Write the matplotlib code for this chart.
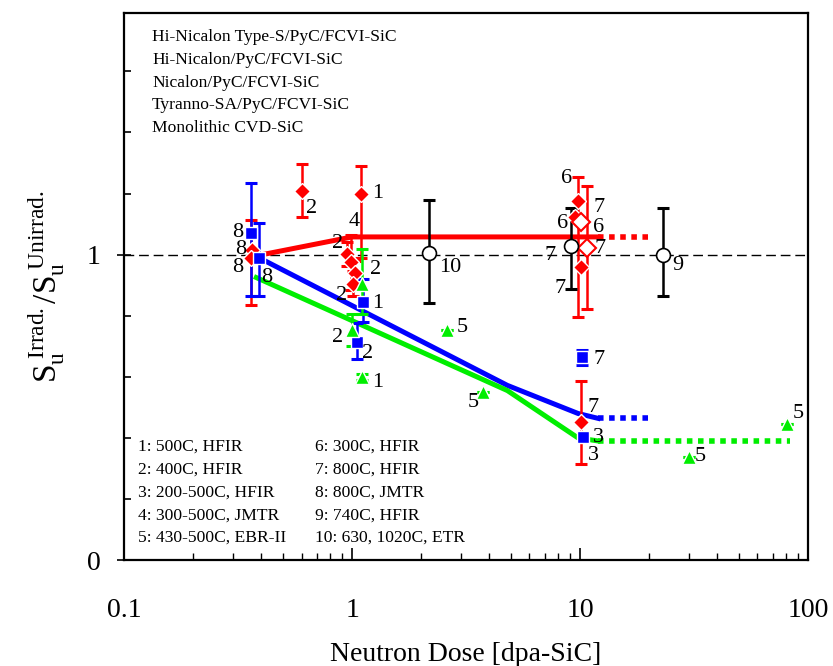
import numpy as np
import matplotlib
matplotlib.use("Agg")
import matplotlib.pyplot as plt

plt.rcParams['font.family'] = ['Liberation Serif', 'DejaVu Serif']
plt.rcParams['mathtext.fontset'] = 'custom'
plt.rcParams['mathtext.rm'] = 'Liberation Serif'
plt.rcParams['mathtext.it'] = 'Liberation Serif:italic'

# --- data ---
# Hi-Nicalon Type-S/PyC/FCVI-SiC (red filled diamonds)
hns_x = [0.365, 0.362, 0.602, 1.092, 0.948, 0.99, 1.03, 1.01, 9.77, 9.5, 10.1, 10.1]
hns_y = [1.015, 0.988, 1.209, 1.200, 1.002, 0.975, 0.94, 0.905, 1.176, 1.122, 0.958, 0.452]
hns_lo = [0.0, 0.152, 0.087, 0.21, 0.04, 0.09, 0.04, 0.04, 0.38, 0.0, 0.0, 0.136]
hns_hi = [0.0, 0.125, 0.087, 0.09, 0.04, 0.09, 0.04, 0.04, 0.077, 0.0, 0.0, 0.133]

# Tyranno-SA/PyC/FCVI-SiC (red open diamonds)
tsa_x = [10.1, 10.74]
tsa_y = [1.106, 1.022]
tsa_lo = [0.0, 0.2]
tsa_hi = [0.0, 0.203]

# Hi-Nicalon/PyC/FCVI-SiC (blue squares)
hn_x = [0.36, 0.392, 1.12, 1.05, 10.25, 10.3]
hn_y = [1.071, 0.989, 0.844, 0.713, 0.664, 0.403]
hn_lo = [0.208, 0.126, 0.065, 0.054, 0.025, 0.01]
hn_hi = [0.163, 0.115, 0.077, 0.063, 0.025, 0.01]

# Nicalon/PyC/FCVI-SiC (green triangles)
nic_x = [1.1, 1.0, 1.11, 2.62, 3.76, 30.2, 81.2]
nic_y = [0.905, 0.752, 0.599, 0.752, 0.55, 0.338, 0.447]
nic_lo = [0.10, 0.05, 0.01, 0.0, 0.0, 0.0, 0.0]
nic_hi = [0.113, 0.054, 0.01, 0.0, 0.0, 0.0, 0.0]

# Monolithic CVD-SiC (black open circles)
cvd_x = [2.18, 9.1, 23.06]
cvd_y = [1.004, 1.029, 0.999]
cvd_lo = [0.163, 0.141, 0.133]
cvd_hi = [0.176, 0.123, 0.154]

# trend lines
red_fit_x = [0.385, 1.0, 12.0]
red_fit_y = [0.997, 1.058, 1.058]
red_ext_x = [12.0, 20.0]
red_ext_y = [1.058, 1.058]
blue_fit_x = [0.39, 4.8, 9.8, 12.0]
blue_fit_y = [0.99, 0.572, 0.48, 0.464]
blue_ext_x = [12.0, 20.0]
blue_ext_y = [0.464, 0.464]
green_fit_x = [0.38, 4.8, 9.8, 12.0]
green_fit_y = [0.925, 0.555, 0.40, 0.39]
green_ext_x = [12.0, 83.0]
green_ext_y = [0.39, 0.39]

# point labels (irradiation condition numbers)
lab_x = [0.316, 0.326, 0.316, 0.42, 0.661, 1.30, 1.02, 0.86, 1.27, 0.90, 1.30, 0.86, 1.175,
         1.29, 3.04, 3.39, 2.69, 8.77, 12.1, 8.34, 12.1, 12.2, 7.39, 8.17, 12.1, 11.4,
         12.0, 11.4, 26.9, 33.6, 90.4]
lab_y = [1.072, 1.016, 0.958, 0.925, 1.150, 1.199, 1.108, 1.036, 0.951, 0.866, 0.84, 0.729, 0.676,
         0.582, 0.761, 0.516, 0.958, 1.248, 1.154, 1.101, 1.088, 1.02, 0.997, 0.889, 0.657, 0.5,
         0.402, 0.343, 0.964, 0.340, 0.48]
lab_txt = ['8', '8', '8', '8', '2', '1', '4', '2', '2', '2', '1', '2', '2',
           '1', '5', '5', '10', '6', '7', '6', '6', '7', '7', '7', '7', '7',
           '3', '3', '9', '5', '5']

materials = ['Hi-Nicalon Type-S/PyC/FCVI-SiC', 'Hi-Nicalon/PyC/FCVI-SiC', 'Nicalon/PyC/FCVI-SiC',
             'Tyranno-SA/PyC/FCVI-SiC', 'Monolithic CVD-SiC']
conditions_1 = ['1: 500C, HFIR', '2: 400C, HFIR', '3: 200-500C, HFIR', '4: 300-500C, JMTR',
                '5: 430-500C, EBR-II']
conditions_2 = ['6: 300C, HFIR', '7: 800C, HFIR', '8: 800C, JMTR', '9: 740C, HFIR',
                '10: 630, 1020C, ETR']

RED = '#ff0000'
BLUE = '#0000ff'
GREEN = '#00ee00'

fig = plt.figure(figsize=(8.33, 6.66), dpi=100)
ax = fig.add_axes([0.149, 0.159, 0.821, 0.821])
ax.set_xscale('log')
ax.set_xlim(0.1, 100)
ax.set_ylim(0, 1.79)

ax.axhline(1.0, color='black', lw=1.0, dashes=(7, 3.5), zorder=1)

# trend lines
ax.plot(red_fit_x, red_fit_y, color=RED, lw=3.6, zorder=2)
ax.plot(red_ext_x, red_ext_y, color=RED, lw=4, linestyle=(0, (1, 1)), zorder=2)
ax.plot(blue_fit_x, blue_fit_y, color=BLUE, lw=3.6, zorder=2)
ax.plot(blue_ext_x, blue_ext_y, color=BLUE, lw=4, linestyle=(0, (1, 1)), zorder=2)
ax.plot(green_fit_x, green_fit_y, color=GREEN, lw=3.6, zorder=2)
ax.plot(green_ext_x, green_ext_y, color=GREEN, lw=4, linestyle=(0, (1, 1)), zorder=2)

eb = dict(fmt='none', elinewidth=1.8, capsize=4.5, capthick=2.2, zorder=3)
ax.errorbar(hns_x, hns_y, yerr=[hns_lo, hns_hi], ecolor=RED, **eb)
ax.errorbar(tsa_x, tsa_y, yerr=[tsa_lo, tsa_hi], ecolor=RED, **eb)
ax.errorbar(hn_x, hn_y, yerr=[hn_lo, hn_hi], ecolor=BLUE, **eb)
ax.errorbar(nic_x, nic_y, yerr=[nic_lo, nic_hi], ecolor=GREEN, **eb)
ax.errorbar(cvd_x, cvd_y, yerr=[cvd_lo, cvd_hi], ecolor='black', **eb)

ax.plot(hns_x, hns_y, 'D', ms=8.5, color=RED, mec='white', mew=1.0, zorder=4)
ax.plot(tsa_x, tsa_y, 'D', ms=9.5, color='white', mec=RED, mew=1.5, zorder=4)
ax.plot(hn_x, hn_y, 's', ms=8.5, color=BLUE, mec='white', mew=1.0, zorder=4)
ax.plot(nic_x, nic_y, '^', ms=9.5, color=GREEN, mec='white', mew=1.0, zorder=4)
ax.plot(cvd_x, cvd_y, 'o', ms=10, color='white', mec='black', mew=1.2, zorder=4)

for x, y, t in zip(lab_x, lab_y, lab_txt):
    ax.text(x, y, t, fontsize=16, ha='center', va='center', zorder=5)

for i, m in enumerate(materials):
    ax.text(0.041, 0.956 - i * 0.0415, m, transform=ax.transAxes, fontsize=12.6, va='center')
for i, c in enumerate(conditions_1):
    ax.text(0.0205, 0.2066 - i * 0.0415, c, transform=ax.transAxes, fontsize=12.6, va='center')
for i, c in enumerate(conditions_2):
    ax.text(0.279, 0.2066 - i * 0.0415, c, transform=ax.transAxes, fontsize=12.6, va='center')

# axes styling
ax.set_yticks([0, 1])
ax.set_yticks(np.arange(0.2, 1.79, 0.2), minor=True)
ax.set_xticks([0.1, 1, 10, 100])
ax.set_xticklabels(['0.1', '1', '10', '100'])
ax.tick_params(axis='x', which='major', direction='in', length=9, width=1.2, labelsize=20, pad=27)
ax.tick_params(axis='x', which='minor', direction='in', length=5, width=1.0)
ax.tick_params(axis='y', which='major', direction='inout', length=10, width=1.2, labelsize=20, pad=12)
ax.tick_params(axis='y', which='minor', direction='in', length=5, width=1.2)
for s in ax.spines.values():
    s.set_linewidth(1.6)

ax.set_xlabel('Neutron Dose [dpa-SiC]', fontsize=20, labelpad=14)
ax.set_ylabel(r'$\mathrm{S_u^{\ Irrad.}/S_u^{\ Unirrad.}}$', fontsize=24)
ax.yaxis.set_label_coords(-0.085, 0.5)

fig.savefig('out.png', dpi=100)
